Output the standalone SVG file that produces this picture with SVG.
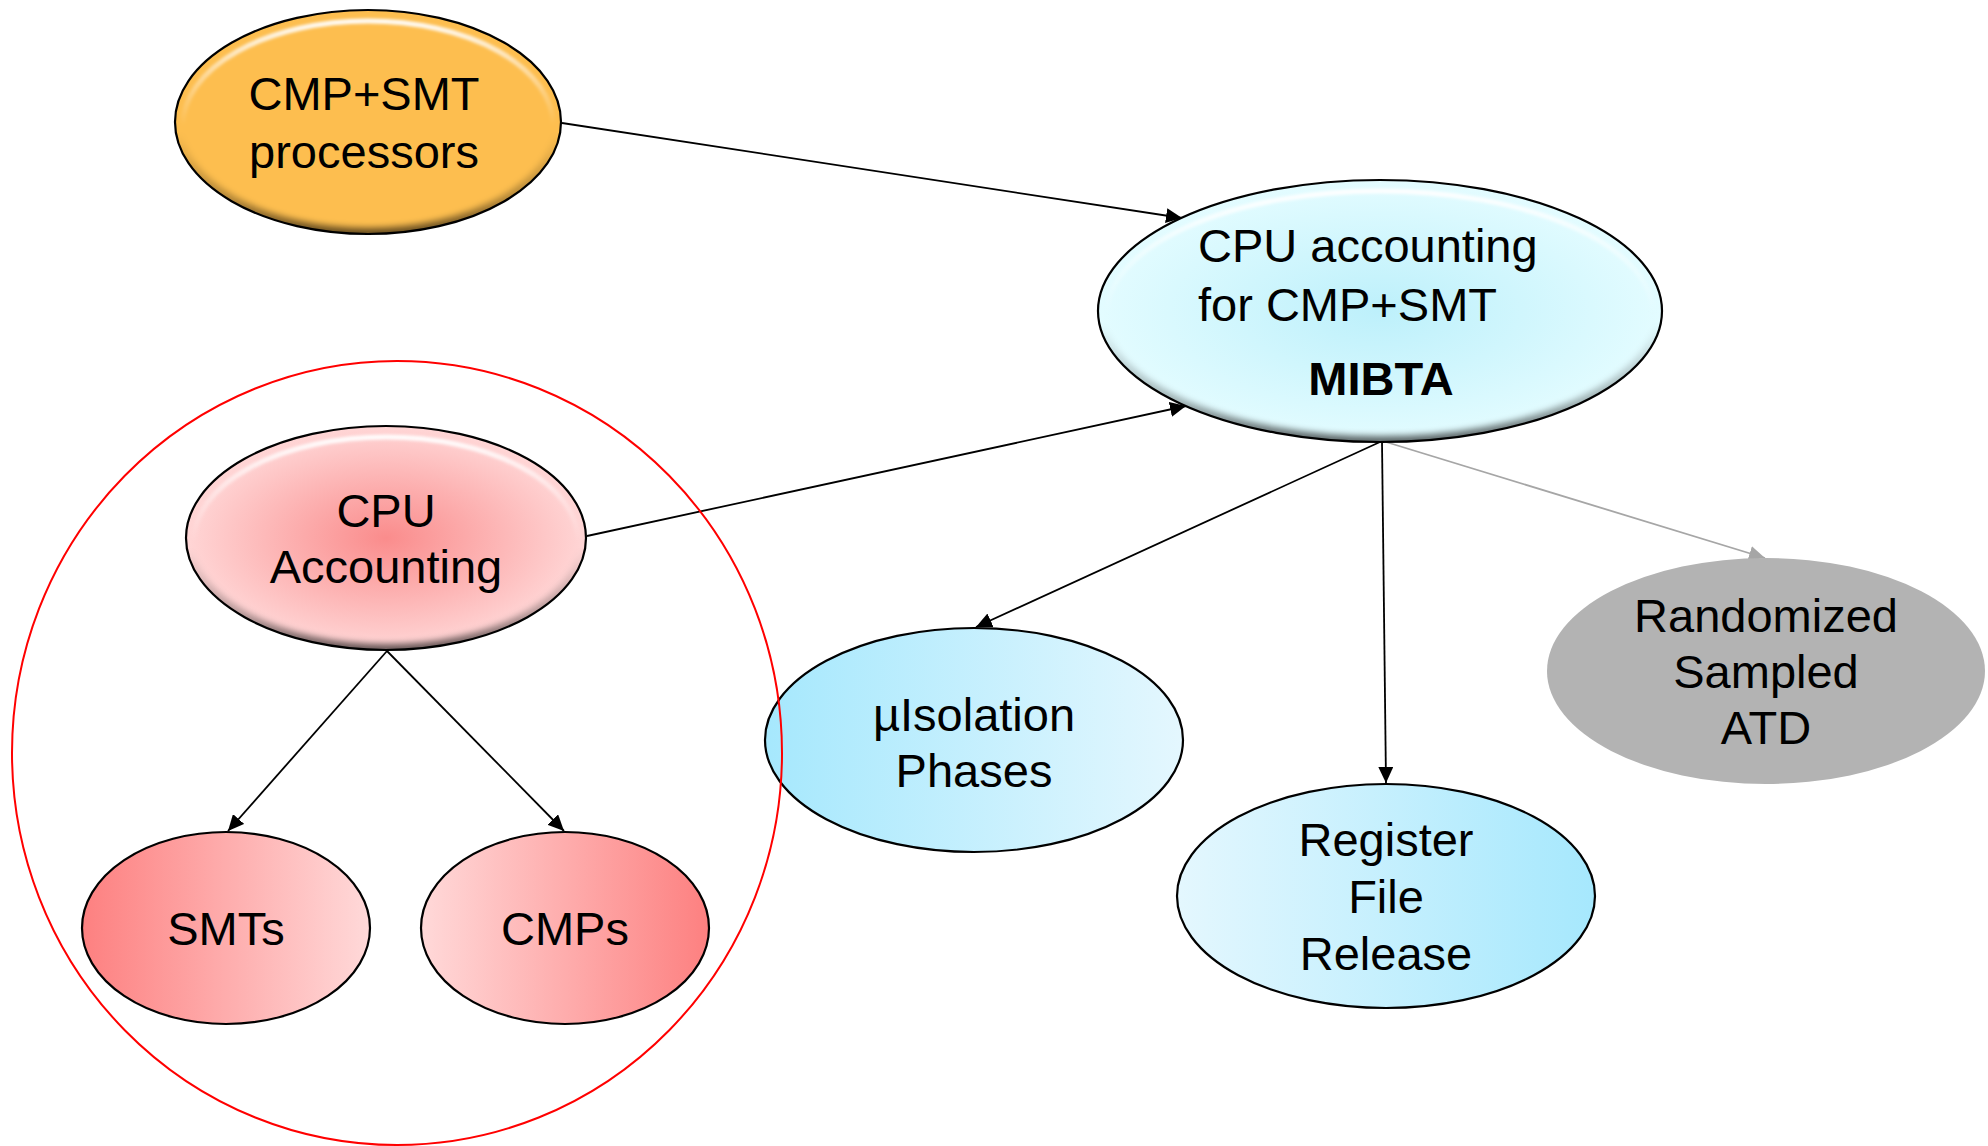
<svg xmlns="http://www.w3.org/2000/svg" width="1988" height="1146" viewBox="0 0 1988 1146">
  <style>
    .lbl { font-family: "Liberation Sans", Arial, Helvetica, sans-serif; font-size: 47px; fill: #000; text-anchor: middle; }
    .lft { text-anchor: start; }
    .bold { font-weight: bold; }
    .node { stroke: #000; stroke-width: 2.2; }
    .edge { fill: none; stroke: #000; stroke-width: 1.8; }
    .edge-gray { fill: none; stroke: #a6a6a6; stroke-width: 1.8; }
    .hi { fill: none; stroke: url(#gHi); stroke-width: 5; filter: url(#soft); }
    .sh { fill: none; stroke: url(#gSh); stroke-width: 12; filter: url(#soft2); }
  </style>
  <defs>
    <marker id="arr" markerUnits="userSpaceOnUse" markerWidth="18" markerHeight="15" refX="16" refY="7.5" orient="auto">
      <path d="M0,0 L16,7.5 L0,15 z" fill="#000"/>
    </marker>
    <marker id="arrGray" markerUnits="userSpaceOnUse" markerWidth="18" markerHeight="15" refX="16" refY="7.5" orient="auto">
      <path d="M0,0 L16,7.5 L0,15 z" fill="#a6a6a6"/>
    </marker>
    <filter id="soft" x="-10%" y="-10%" width="120%" height="120%"><feGaussianBlur stdDeviation="1.8"/></filter>
    <filter id="soft2" x="-10%" y="-10%" width="120%" height="120%"><feGaussianBlur stdDeviation="3"/></filter>
    <linearGradient id="gHi" x1="0" y1="0" x2="0" y2="1">
      <stop offset="0" stop-color="#fff" stop-opacity="0.95"/>
      <stop offset="0.3" stop-color="#fff" stop-opacity="0.35"/>
      <stop offset="0.5" stop-color="#fff" stop-opacity="0"/>
    </linearGradient>
    <linearGradient id="gSh" x1="0" y1="0" x2="0" y2="1">
      <stop offset="0.55" stop-color="#000" stop-opacity="0"/>
      <stop offset="0.85" stop-color="#000" stop-opacity="0.3"/>
      <stop offset="1" stop-color="#000" stop-opacity="0.6"/>
    </linearGradient>
    <radialGradient id="gCyan" cx="0.5" cy="0.5" r="0.5">
      <stop offset="0" stop-color="#bdf0fb"/>
      <stop offset="1" stop-color="#e3fcff"/>
    </radialGradient>
    <radialGradient id="gPink" cx="0.5" cy="0.5" r="0.5">
      <stop offset="0" stop-color="#fa8c8c"/>
      <stop offset="1" stop-color="#ffd6d6"/>
    </radialGradient>
    <linearGradient id="gRedLR" x1="0" y1="0" x2="1" y2="0">
      <stop offset="0" stop-color="#fd8080"/>
      <stop offset="1" stop-color="#ffd9d9"/>
    </linearGradient>
    <linearGradient id="gRedRL" x1="1" y1="0" x2="0" y2="0">
      <stop offset="0" stop-color="#fd8080"/>
      <stop offset="1" stop-color="#ffd9d9"/>
    </linearGradient>
    <linearGradient id="gBlueLR" x1="0" y1="0" x2="1" y2="0">
      <stop offset="0" stop-color="#a6e8fd"/>
      <stop offset="1" stop-color="#e4f7fe"/>
    </linearGradient>
    <linearGradient id="gBlueRL" x1="1" y1="0" x2="0" y2="0">
      <stop offset="0" stop-color="#a6e8fd"/>
      <stop offset="1" stop-color="#e4f7fe"/>
    </linearGradient>
    <clipPath id="cProc"><ellipse cx="368" cy="122" rx="193" ry="112"/></clipPath>
    <clipPath id="cMibta"><ellipse cx="1380" cy="311" rx="282" ry="131"/></clipPath>
    <clipPath id="cCpu"><ellipse cx="386" cy="538" rx="200" ry="112"/></clipPath>
  </defs>

  <rect width="1988" height="1146" fill="#fff"/>

  <!-- connectors -->
  <g id="connectors">
    <line class="edge" x1="562" y1="123" x2="1182" y2="218" marker-end="url(#arr)"/>
    <line class="edge" x1="587" y1="536" x2="1186" y2="406" marker-end="url(#arr)"/>
    <line class="edge" x1="387" y1="651" x2="228" y2="831" marker-end="url(#arr)"/>
    <line class="edge" x1="387" y1="651" x2="564" y2="831" marker-end="url(#arr)"/>
    <line class="edge" x1="1380" y1="442" x2="976" y2="627" marker-end="url(#arr)"/>
    <line class="edge" x1="1382" y1="442" x2="1386" y2="783" marker-end="url(#arr)"/>
    <line class="edge-gray" x1="1386" y1="442" x2="1765" y2="558" marker-end="url(#arrGray)"/>
  </g>

  <!-- CMP+SMT processors -->
  <g id="node-processors">
    <ellipse cx="368" cy="122" rx="193" ry="112" fill="#fdbe4f"/>
    <g clip-path="url(#cProc)">
      <ellipse class="sh" cx="368" cy="122" rx="193" ry="112"/>
      <ellipse class="hi" cx="368" cy="125" rx="185" ry="104"/>
    </g>
    <ellipse class="node" cx="368" cy="122" rx="193" ry="112" fill="none"/>
    <text class="lbl" x="364" y="110">CMP+SMT</text>
    <text class="lbl" x="364" y="168">processors</text>
  </g>

  <!-- CPU accounting for CMP+SMT / MIBTA -->
  <g id="node-mibta">
    <ellipse cx="1380" cy="311" rx="282" ry="131" fill="url(#gCyan)"/>
    <g clip-path="url(#cMibta)">
      <ellipse class="sh" cx="1380" cy="311" rx="282" ry="131"/>
      <ellipse class="hi" cx="1380" cy="314" rx="273" ry="123"/>
    </g>
    <ellipse class="node" cx="1380" cy="311" rx="282" ry="131" fill="none"/>
    <text class="lbl lft" x="1198" y="262">CPU accounting</text>
    <text class="lbl lft" x="1198" y="321">for CMP+SMT</text>
    <text class="lbl bold" x="1381" y="395">MIBTA</text>
  </g>

  <!-- CPU Accounting -->
  <g id="node-cpu-accounting">
    <ellipse cx="386" cy="538" rx="200" ry="112" fill="url(#gPink)"/>
    <g clip-path="url(#cCpu)">
      <ellipse class="sh" cx="386" cy="538" rx="200" ry="112"/>
      <ellipse class="hi" cx="386" cy="541" rx="192" ry="104"/>
    </g>
    <ellipse class="node" cx="386" cy="538" rx="200" ry="112" fill="none"/>
    <text class="lbl" x="386" y="527">CPU</text>
    <text class="lbl" x="386" y="583">Accounting</text>
  </g>

  <!-- SMTs -->
  <g id="node-smts">
    <ellipse class="node" cx="226" cy="928" rx="144" ry="96" fill="url(#gRedLR)"/>
    <text class="lbl" x="226" y="945">SMTs</text>
  </g>

  <!-- CMPs -->
  <g id="node-cmps">
    <ellipse class="node" cx="565" cy="928" rx="144" ry="96" fill="url(#gRedRL)"/>
    <text class="lbl" x="565" y="945">CMPs</text>
  </g>

  <!-- µIsolation Phases -->
  <g id="node-isolation">
    <ellipse class="node" cx="974" cy="740" rx="209" ry="112" fill="url(#gBlueLR)"/>
    <text class="lbl" x="974" y="731">µIsolation</text>
    <text class="lbl" x="974" y="787">Phases</text>
  </g>

  <!-- Register File Release -->
  <g id="node-register">
    <ellipse class="node" cx="1386" cy="896" rx="209" ry="112" fill="url(#gBlueRL)"/>
    <text class="lbl" x="1386" y="856">Register</text>
    <text class="lbl" x="1386" y="913">File</text>
    <text class="lbl" x="1386" y="970">Release</text>
  </g>

  <!-- Randomized Sampled ATD -->
  <g id="node-atd">
    <ellipse cx="1766" cy="671" rx="219" ry="113" fill="#b3b3b3"/>
    <text class="lbl" x="1766" y="632">Randomized</text>
    <text class="lbl" x="1766" y="688">Sampled</text>
    <text class="lbl" x="1766" y="744">ATD</text>
  </g>

  <!-- grouping outline around the CPU accounting subtree -->
  <g id="group-outline">
    <ellipse cx="397" cy="753" rx="385" ry="392" fill="none" stroke="#ff0000" stroke-width="2"/>
  </g>
</svg>
